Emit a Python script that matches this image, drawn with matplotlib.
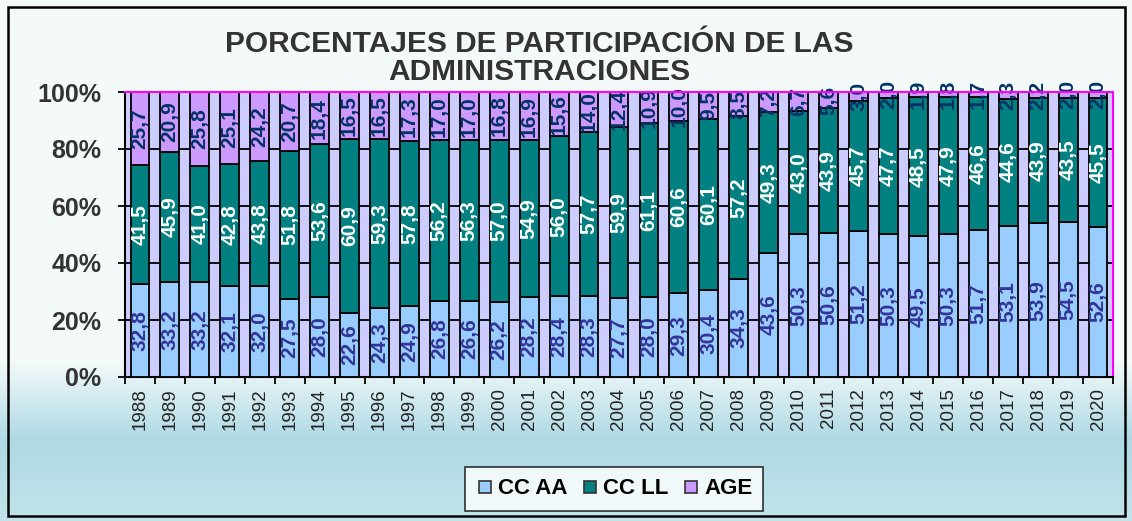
import numpy as np
import matplotlib
matplotlib.use("Agg")
import matplotlib.pyplot as plt
from matplotlib.patches import Rectangle
from matplotlib.lines import Line2D

plt.rcParams['font.family'] = ['Liberation Sans', 'DejaVu Sans']

years = [str(y) for y in range(1988, 2021)]
cc_aa = [32.8, 33.2, 33.2, 32.1, 32.0, 27.5, 28.0, 22.6, 24.3, 24.9, 26.8, 26.6, 26.2, 28.2, 28.4, 28.3,
         27.7, 28.0, 29.3, 30.4, 34.3, 43.6, 50.3, 50.6, 51.2, 50.3, 49.5, 50.3, 51.7, 53.1, 53.9, 54.5, 52.6]
cc_ll = [41.5, 45.9, 41.0, 42.8, 43.8, 51.8, 53.6, 60.9, 59.3, 57.8, 56.2, 56.3, 57.0, 54.9, 56.0, 57.7,
         59.9, 61.1, 60.6, 60.1, 57.2, 49.3, 43.0, 43.9, 45.7, 47.7, 48.5, 47.9, 46.6, 44.6, 43.9, 43.5, 45.5]
age = [25.7, 20.9, 25.8, 25.1, 24.2, 20.7, 18.4, 16.5, 16.5, 17.3, 17.0, 17.0, 16.8, 16.9, 15.6, 14.0,
       12.4, 10.9, 10.0, 9.5, 8.5, 7.2, 6.7, 5.6, 3.0, 2.0, 1.9, 1.8, 1.7, 2.3, 2.2, 2.0, 2.0]
series_names = ['CC AA', 'CC LL', 'AGE']
title = 'PORCENTAJES DE PARTICIPACIÓN DE LAS\nADMINISTRACIONES'

W, H = 1132, 521
fig = plt.figure(figsize=(W / 100, H / 100), dpi=100)

# background gradient
bg = fig.add_axes([0, 0, 1, 1], zorder=-10)
top_c = np.array([0xf4, 0xfa, 0xfa]) / 255
mid_c = np.array([0xae, 0xd9, 0xe4]) / 255
bot_c = np.array([0xc2, 0xe4, 0xea]) / 255
img = np.zeros((H, 1, 3))
for r in range(H):
    if r < 360:
        c = top_c
    elif r < 440:
        t = (r - 360) / 80
        c = top_c * (1 - t) + mid_c * t
    else:
        t = (r - 440) / 81
        c = mid_c * (1 - t) + bot_c * t
    img[r, 0] = c
bg.imshow(img, aspect='auto', extent=[0, 1, 0, 1], origin='upper')
bg.set_xlim(0, 1); bg.set_ylim(0, 1)
bg.axis('off')
bg.add_patch(Rectangle((8 / W, 5 / H), 1117 / W, 509 / H, fill=False, edgecolor='black', lw=1.8,
                       transform=bg.transAxes))

ax = fig.add_axes([125 / W, 1 - 377 / H, (1113 - 125) / W, (377 - 92) / H])
ax.set_facecolor('#ccccff')

a = np.array(cc_aa); l = np.array(cc_ll); g = np.array(age)
tot = a + l + g
pa, pl, pg = a / tot * 100, l / tot * 100, g / tot * 100
x = np.arange(len(years))
bw = 0.63
ax.bar(x, pa, bw, color='#99ccff', edgecolor='black', lw=1.3, zorder=3, label=series_names[0])
ax.bar(x, pl, bw, bottom=pa, color='#008080', edgecolor='black', lw=1.3, zorder=3, label=series_names[1])
ax.bar(x, pg, bw, bottom=pa + pl, color='#cc99ff', edgecolor='black', lw=1.3, zorder=3, label=series_names[2])

def fmt(v):
    return f"{v:.1f}".replace('.', ',')

fs = 15
for i in range(len(x)):
    ax.text(x[i], pa[i] / 2, fmt(a[i]), rotation=90, ha='center', va='center', fontsize=fs,
            fontweight='bold', color='#333399', zorder=5, clip_on=False)
    ax.text(x[i], pa[i] + pl[i] / 2, fmt(l[i]), rotation=90, ha='center', va='center', fontsize=fs,
            fontweight='bold', color='white', zorder=5, clip_on=False)
    ax.text(x[i], pa[i] + pl[i] + pg[i] / 2, fmt(g[i]), rotation=90, ha='center', va='center',
            fontsize=fs, fontweight='bold', color='#003366', zorder=5, clip_on=False)

ax.set_xlim(-0.5, len(x) - 0.5)
ax.set_ylim(0, 100)
ax.set_yticks([0, 20, 40, 60, 80, 100])
ax.set_yticklabels(['0%', '20%', '40%', '60%', '80%', '100%'], fontsize=18, fontweight='bold',
                   color='#333333')
ax.yaxis.grid(True, color='black', lw=1.3, zorder=0)
ax.set_axisbelow(True)
ax.set_xticks(x)
ax.set_xticklabels(years, rotation=90, fontsize=13.5, color='#222222')
ax.set_xticks(np.arange(-0.5, len(x), 1), minor=True)
ax.tick_params(axis='x', which='major', length=0, pad=8)
ax.tick_params(axis='x', which='minor', length=5, width=1.3, direction='out')
ax.tick_params(axis='y', length=5, width=1.3, direction='out', pad=12)
for s in ['left', 'bottom']:
    ax.spines[s].set_color('black'); ax.spines[s].set_linewidth(1.5)
for s in ['top', 'right']:
    ax.spines[s].set_color('#ff00ff'); ax.spines[s].set_linewidth(1.5)
ax.spines['top'].set_zorder(6)

fig.text(539 / W, 1 - 58 / H, title, ha='center', va='center', fontsize=21.5, fontweight='bold',
         color='#333333', linespacing=1.0)

handles = [Line2D([], [], marker='s', ls='none', markersize=9, markerfacecolor=c, markeredgecolor='#333333',
                  markeredgewidth=1.2) for c in ['#99ccff', '#008080', '#cc99ff']]
leg = fig.legend(handles, series_names, loc='center', bbox_to_anchor=(614 / W, 1 - 489 / H), ncol=3,
                 frameon=True, fancybox=False, edgecolor='black',
                 prop={'weight': 'bold', 'size': 16}, handlelength=0.8, handletextpad=0.2,
                 columnspacing=0.6, borderpad=0.5)
leg.get_frame().set_linewidth(1.2)
leg.get_frame().set_facecolor('white')

fig.savefig('out.png', dpi=100)
